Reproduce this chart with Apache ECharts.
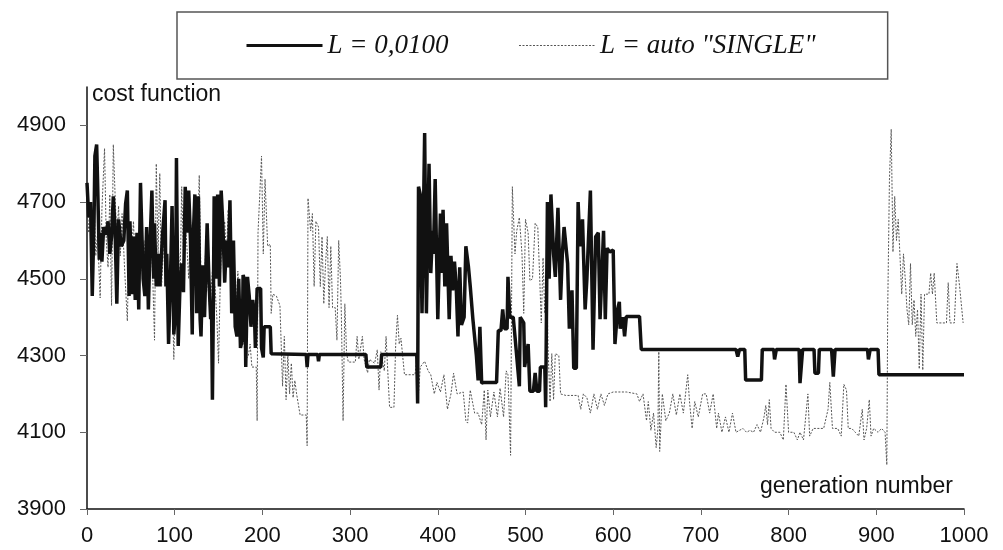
<!DOCTYPE html>
<html><head><meta charset="utf-8">
<script src="https://cdn.jsdelivr.net/npm/echarts@6/dist/echarts.min.js"></script>
<style>html,body{margin:0;padding:0;background:#fff}#c{width:1003px;height:550px}</style>
</head><body><div id="c"></div>
<script>
const seriesNames = ['L = 0,0100', 'L = auto "SINGLE"'];
const yTicks = [3900, 4100, 4300, 4500, 4700, 4900];
const xTicks = [0, 100, 200, 300, 400, 500, 600, 700, 800, 900, 1000];
const yAxisName = 'cost function';
const xAxisName = 'generation number';

// L = 0,0100  [generation, cost]
const fixedL = [[0,4750],[2,4660],[4,4700],[6,4455],[8,4650],[9,4820],[11,4850],[12,4760],[14,4550],[15,4620],[17,4545],[19,4635],[22,4615],[24,4650],[26,4565],[28,4610],[30,4715],[32,4630],[34,4435],[36,4655],[39,4585],[42,4600],[44,4695],[46,4730],[48,4455],[49,4650],[51,4460],[53,4610],[55,4445],[57,4620],[59,4420],[61,4750],[63,4755],[64,4500],[66,4455],[68,4635],[70,4420],[72,4600],[74,4730],[76,4500],[77,4645],[79,4480],[81,4565],[83,4480],[86,4610],[89,4705],[90,4480],[91,4565],[93,4330],[95,4480],[97,4690],[99,4355],[101,4420],[102,4815],[104,4325],[106,4480],[108,4540],[110,4465],[112,4740],[114,4620],[116,4730],[118,4600],[120,4355],[121,4600],[123,4720],[125,4410],[127,4715],[129,4395],[130,4350],[132,4535],[134,4400],[137,4645],[139,4500],[141,4395],[142,4430],[143,4185],[144,4410],[145,4715],[147,4500],[149,4720],[151,4480],[153,4730],[155,4635],[157,4490],[159,4600],[161,4530],[163,4705],[165,4410],[167,4600],[169,4375],[171,4350],[173,4500],[175,4320],[177,4340],[178,4510],[180,4495],[181,4270],[183,4505],[185,4455],[187,4375],[189,4445],[191,4400],[192,4320],[194,4475],[196,4470],[198,4475],[199,4320],[201,4295],[202,4375],[205,4375],[207,4380],[209,4375],[210,4305],[250,4303],[251,4270],[252,4303],[263,4303],[264,4285],[265,4303],[318,4303],[319,4270],[335,4270],[336,4303],[376,4303],[377,4175],[378,4740],[380,4720],[382,4410],[385,4880],[387,4410],[390,4800],[392,4515],[394,4625],[395,4565],[397,4760],[400,4395],[403,4670],[404,4515],[406,4680],[408,4480],[410,4645],[413,4395],[415,4560],[417,4470],[419,4545],[421,4480],[423,4350],[425,4530],[427,4380],[430,4400],[432,4585],[435,4530],[437,4480],[440,4395],[442,4390],[444,4300],[446,4235],[448,4375],[450,4228],[453,4230],[467,4230],[469,4365],[472,4365],[474,4420],[476,4370],[479,4370],[480,4505],[482,4400],[486,4400],[488,4350],[493,4220],[494,4400],[498,4385],[499,4270],[503,4330],[505,4207],[509,4207],[511,4255],[513,4207],[516,4207],[517,4270],[522,4270],[523,4165],[525,4700],[527,4500],[529,4720],[532,4565],[534,4505],[537,4685],[540,4445],[542,4565],[544,4635],[546,4630],[548,4540],[550,4370],[553,4470],[555,4267],[558,4267],[560,4700],[562,4585],[565,4655],[568,4420],[570,4500],[574,4730],[577,4315],[580,4610],[583,4620],[585,4395],[589,4625],[591,4395],[593,4580],[596,4570],[600,4575],[602,4330],[605,4420],[607,4440],[608,4370],[611,4400],[613,4350],[615,4402],[630,4402],[632,4316],[740,4316],[742,4297],[744,4316],[750,4316],[751,4236],[769,4236],[770,4316],[783,4316],[784,4290],[786,4316],[812,4316],[813,4228],[816,4316],[829,4316],[830,4254],[834,4254],[835,4316],[849,4316],[851,4245],[853,4316],[890,4316],[891,4290],[893,4316],[902,4316],[903,4250],[1000,4250]];

// L = auto "SINGLE"  [generation, cost]
const autoL = [[0,4700],[2,4620],[4,4650],[6,4600],[8,4700],[10,4560],[12,4620],[15,4450],[17,4680],[20,4840],[22,4600],[24,4530],[26,4720],[28,4430],[30,4850],[32,4720],[34,4600],[36,4690],[38,4560],[40,4670],[43,4520],[46,4390],[48,4600],[50,4540],[53,4650],[56,4470],[58,4560],[60,4640],[63,4520],[65,4600],[68,4480],[70,4560],[73,4620],[75,4500],[77,4340],[79,4800],[81,4560],[83,4775],[85,4480],[88,4620],[91,4500],[93,4450],[96,4600],[99,4290],[101,4500],[104,4600],[106,4480],[108,4740],[110,4560],[113,4620],[116,4500],[118,4650],[121,4560],[124,4480],[126,4600],[128,4770],[130,4500],[133,4420],[135,4560],[138,4480],[140,4420],[143,4520],[146,4480],[148,4400],[150,4280],[152,4500],[154,4620],[157,4650],[159,4560],[161,4680],[163,4600],[166,4520],[168,4470],[170,4420],[172,4520],[175,4410],[178,4350],[181,4290],[184,4300],[186,4330],[188,4270],[193,4270],[194,4130],[195,4620],[199,4820],[201,4565],[203,4760],[205,4760],[206,4585],[209,4590],[210,4410],[212,4460],[216,4455],[220,4430],[223,4220],[225,4350],[227,4185],[229,4305],[231,4200],[233,4280],[235,4190],[237,4235],[239,4200],[243,4145],[250,4145],[251,4065],[252,4710],[255,4625],[257,4670],[259,4480],[261,4650],[264,4635],[266,4480],[268,4610],[270,4435],[272,4540],[274,4610],[276,4425],[278,4585],[280,4425],[283,4425],[285,4340],[287,4600],[289,4500],[290,4410],[292,4130],[294,4435],[296,4305],[298,4283],[306,4283],[308,4350],[310,4290],[314,4350],[316,4290],[320,4255],[322,4290],[328,4280],[331,4315],[333,4210],[335,4310],[339,4260],[341,4350],[343,4350],[345,4165],[350,4165],[352,4330],[354,4405],[356,4330],[358,4345],[362,4250],[374,4250],[376,4290],[378,4200],[380,4270],[385,4285],[389,4260],[392,4250],[396,4200],[399,4230],[403,4205],[407,4250],[411,4160],[415,4200],[418,4254],[422,4200],[429,4205],[432,4130],[434,4124],[437,4210],[442,4150],[446,4150],[450,4120],[453,4210],[455,4080],[457,4210],[460,4140],[464,4205],[468,4140],[471,4215],[475,4140],[478,4260],[480,4250],[483,4040],[485,4740],[488,4565],[490,4625],[493,4660],[496,4565],[498,4410],[500,4655],[503,4620],[505,4495],[508,4500],[511,4645],[514,4635],[516,4515],[518,4385],[520,4555],[522,4410],[524,4500],[526,4300],[528,4180],[530,4305],[532,4185],[534,4305],[538,4300],[540,4200],[546,4196],[560,4196],[563,4160],[566,4200],[570,4190],[574,4150],[578,4200],[582,4160],[586,4200],[590,4170],[594,4200],[600,4205],[615,4205],[627,4200],[630,4180],[634,4200],[638,4130],[640,4180],[643,4105],[646,4150],[649,4060],[651,4110],[652,4310],[653,4050],[656,4200],[660,4130],[664,4150],[668,4200],[672,4145],[676,4200],[680,4150],[683,4210],[685,4250],[687,4180],[690,4110],[693,4180],[697,4140],[702,4200],[706,4200],[710,4150],[714,4200],[718,4110],[720,4150],[724,4100],[728,4140],[732,4100],[736,4150],[740,4100],[748,4110],[752,4100],[756,4105],[760,4100],[764,4120],[768,4100],[772,4140],[774,4170],[776,4120],[778,4185],[780,4110],[784,4100],[790,4100],[794,4080],[797,4225],[800,4100],[806,4100],[810,4080],[813,4100],[817,4080],[822,4200],[824,4090],[828,4110],[832,4110],[840,4110],[845,4160],[847,4230],[850,4110],[856,4110],[860,4090],[863,4225],[866,4210],[868,4110],[872,4110],[876,4100],[880,4090],[884,4160],[886,4080],[889,4110],[892,4185],[894,4090],[897,4110],[902,4100],[906,4110],[910,4100],[912,4015],[913,4420],[915,4760],[917,4890],[919,4570],[921,4715],[923,4600],[925,4655],[927,4560],[929,4460],[931,4565],[933,4500],[935,4420],[937,4380],[939,4540],[941,4380],[943,4445],[945,4350],[947,4420],[949,4265],[951,4460],[953,4262],[955,4460],[960,4460],[962,4515],[964,4460],[966,4515],[969,4385],[980,4385],[982,4490],[984,4385],[989,4385],[992,4540],[995,4480],[999,4385]];

const chart = echarts.init(document.getElementById('c'), null, {renderer: 'canvas'});
const axisFont = {fontFamily: 'Liberation Sans, Arial, sans-serif', fontSize: 22, color: '#111'};
const plain = v => String(v);
const hidden = {color: 'rgba(0,0,0,0)', borderWidth: 0};
chart.setOption({
  animation: false,
  backgroundColor: '#fff',
  grid: {left: 87, right: 39, top: 87, bottom: 41},
  legend: {
    left: 177, top: 12,
    padding: [20, 72, 20, 68],
    borderColor: '#555', borderWidth: 1.5,
    itemWidth: 76, itemHeight: 14, itemGap: 70,
    textStyle: {fontFamily: 'Liberation Serif, Times New Roman, serif', fontStyle: 'italic', fontSize: 27, color: '#111'},
    data: [
      {name: seriesNames[0], itemStyle: hidden, lineStyle: {color: '#111', width: 3}},
      {name: seriesNames[1], itemStyle: hidden, lineStyle: {color: '#555', width: 1, type: [2, 1.5]}}
    ]
  },
  xAxis: {
    type: 'value', min: xTicks[0], max: xTicks[xTicks.length - 1], interval: 100,
    axisLine: {lineStyle: {color: '#111', width: 1.5}},
    axisTick: {show: true, inside: false, length: 6, lineStyle: {color: '#666', width: 1}},
    axisLabel: Object.assign({margin: 16, formatter: plain}, axisFont),
    splitLine: {show: false}
  },
  yAxis: {
    type: 'value', min: 3900, max: 5000, interval: 200,
    axisLine: {show: true, lineStyle: {color: '#111', width: 1.5}},
    axisTick: {show: true, inside: false, length: 7, customValues: yTicks, lineStyle: {color: '#666', width: 1}},
    axisLabel: Object.assign({margin: 21, customValues: yTicks, formatter: plain}, axisFont),
    splitLine: {show: false}
  },
  graphic: [
    {type: 'text', left: 92, top: 83, style: {text: yAxisName, font: '23px "Liberation Sans", Arial, sans-serif', fill: '#111'}},
    {type: 'text', right: 50, top: 475, style: {text: xAxisName, font: '23px "Liberation Sans", Arial, sans-serif', fill: '#111'}}
  ],
  series: [
    {
      name: seriesNames[1], type: 'line', data: autoL, symbol: 'none', z: 2,
      lineStyle: {color: '#555', width: 1, type: [2, 1.5]},
      itemStyle: {color: '#555'}
    },
    {
      name: seriesNames[0], type: 'line', data: fixedL, symbol: 'none', z: 3,
      lineStyle: {color: '#111', width: 3.5},
      itemStyle: {color: '#111'}
    }
  ]
});
</script></body></html>
